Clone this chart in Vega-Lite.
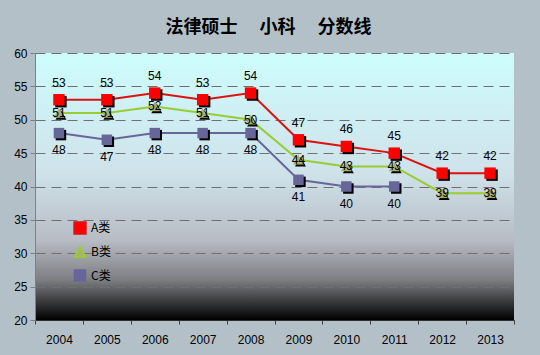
{
  "$schema": "https://vega.github.io/schema/vega-lite/v6.json",
  "width": 479,
  "height": 267,
  "autosize": "none",
  "padding": {"left": 35, "top": 53, "right": 26, "bottom": 35},
  "background": "#b4c0c8",
  "title": {
    "text": "法律硕士　 小科　 分数线",
    "font": "Noto Sans CJK SC",
    "fontSize": 18,
    "fontWeight": "bold",
    "color": "#000000",
    "offset": 10,
    "dx": -6
  },
  "config": {
    "view": {
      "stroke": null,
      "fill": {
        "gradient": "linear",
        "x1": 0, "y1": 0, "x2": 0, "y2": 1,
        "stops": [
          {"offset": 0, "color": "#cdfcfc"},
          {"offset": 0.45, "color": "#cfe2ea"},
          {"offset": 0.7, "color": "#b8bcc4"},
          {"offset": 0.85, "color": "#7c7e82"},
          {"offset": 1, "color": "#000000"}
        ]
      }
    },
    "axis": {
      "labelFont": "Liberation Sans",
      "labelFontSize": 12,
      "labelColor": "#000000",
      "titleFont": "Liberation Sans"
    }
  },
  "data": {
    "values": [
      {"year": "2004", "series": "A类", "value": 53},
      {"year": "2005", "series": "A类", "value": 53},
      {"year": "2006", "series": "A类", "value": 54},
      {"year": "2007", "series": "A类", "value": 53},
      {"year": "2008", "series": "A类", "value": 54},
      {"year": "2009", "series": "A类", "value": 47},
      {"year": "2010", "series": "A类", "value": 46},
      {"year": "2011", "series": "A类", "value": 45},
      {"year": "2012", "series": "A类", "value": 42},
      {"year": "2013", "series": "A类", "value": 42},
      {"year": "2004", "series": "B类", "value": 51},
      {"year": "2005", "series": "B类", "value": 51},
      {"year": "2006", "series": "B类", "value": 52},
      {"year": "2007", "series": "B类", "value": 51},
      {"year": "2008", "series": "B类", "value": 50},
      {"year": "2009", "series": "B类", "value": 44},
      {"year": "2010", "series": "B类", "value": 43},
      {"year": "2011", "series": "B类", "value": 43},
      {"year": "2012", "series": "B类", "value": 39},
      {"year": "2013", "series": "B类", "value": 39},
      {"year": "2004", "series": "C类", "value": 48},
      {"year": "2005", "series": "C类", "value": 47},
      {"year": "2006", "series": "C类", "value": 48},
      {"year": "2007", "series": "C类", "value": 48},
      {"year": "2008", "series": "C类", "value": 48},
      {"year": "2009", "series": "C类", "value": 41},
      {"year": "2010", "series": "C类", "value": 40},
      {"year": "2011", "series": "C类", "value": 40}
    ]
  },
  "encoding": {
    "x": {
      "field": "year",
      "type": "ordinal",
      "scale": {"paddingInner": 0, "paddingOuter": 0},
      "axis": {
        "title": null,
        "labelAngle": 0,
        "labelPadding": 10,
        "tickBand": "extent",
        "tickColor": "#404040",
        "tickSize": 4,
        "domainColor": "#303030",
        "grid": false
      }
    },
    "y": {
      "field": "value",
      "type": "quantitative",
      "scale": {"domain": [20, 60], "nice": false, "zero": false},
      "axis": {
        "title": null,
        "values": [20, 25, 30, 35, 40, 45, 50, 55, 60],
        "tickColor": "#808080",
        "tickSize": 5,
        "labelPadding": 3,
        "domainColor": "#808080",
        "grid": true,
        "gridColor": "#707070",
        "gridDash": [10, 6],
        "gridWidth": 1
      }
    }
  },
  "layer": [
    {
      "mark": {"type": "line", "strokeWidth": 2},
      "encoding": {
        "color": {
          "field": "series",
          "type": "nominal",
          "scale": {"domain": ["A类", "B类", "C类"], "range": ["#dd1111", "#99cc33", "#666699"]},
          "legend": {
            "title": null,
            "orient": "none",
            "legendX": 38,
            "legendY": 168,
            "symbolType": "M-1.4,0H1.4M-0.33,-0.33H0.33V0.33H-0.33Z",
            "symbolSize": 500,
            "symbolStrokeWidth": 2,
            "rowPadding": 4.5,
            "labelOffset": 4,
            "labelFont": "Noto Sans CJK SC",
            "labelFontSize": 12,
            "labelColor": "#000000",
            "padding": 0
          }
        }
      }
    },
    {
      "mark": {"type": "point", "filled": true, "opacity": 1, "color": "#000000", "xOffset": 2, "yOffset": 2},
      "encoding": {
        "shape": {
          "field": "series",
          "type": "nominal",
          "scale": {"domain": ["A类", "B类", "C类"], "range": ["square", "triangle-up", "square"]},
          "legend": null
        },
        "size": {
          "field": "series",
          "type": "nominal",
          "scale": {"domain": ["A类", "B类", "C类"], "range": [130, 110, 190]},
          "legend": null
        }
      }
    },
    {
      "mark": {"type": "point", "filled": true, "opacity": 1},
      "encoding": {
        "fill": {
          "field": "series",
          "type": "nominal",
          "scale": {"domain": ["A类", "B类", "C类"], "range": ["#ff0000", "#a8b070", "#666699"]},
          "legend": null
        },
        "shape": {
          "field": "series",
          "type": "nominal",
          "scale": {"domain": ["A类", "B类", "C类"], "range": ["square", "triangle-up", "square"]},
          "legend": null
        },
        "size": {
          "field": "series",
          "type": "nominal",
          "scale": {"domain": ["A类", "B类", "C类"], "range": [130, 110, 190]},
          "legend": null
        }
      }
    },
    {
      "transform": [{"filter": "datum.series === 'A类'"}],
      "mark": {"type": "text", "dy": -17, "font": "Liberation Sans", "fontSize": 12, "color": "#000000"},
      "encoding": {"text": {"field": "value", "type": "quantitative"}}
    },
    {
      "transform": [{"filter": "datum.series === 'B类'"}],
      "mark": {"type": "text", "dy": 0, "font": "Liberation Sans", "fontSize": 12, "color": "#000000"},
      "encoding": {"text": {"field": "value", "type": "quantitative"}}
    },
    {
      "transform": [{"filter": "datum.series === 'C类'"}],
      "mark": {"type": "text", "dy": 17, "font": "Liberation Sans", "fontSize": 12, "color": "#000000"},
      "encoding": {"text": {"field": "value", "type": "quantitative"}}
    }
  ]
}
